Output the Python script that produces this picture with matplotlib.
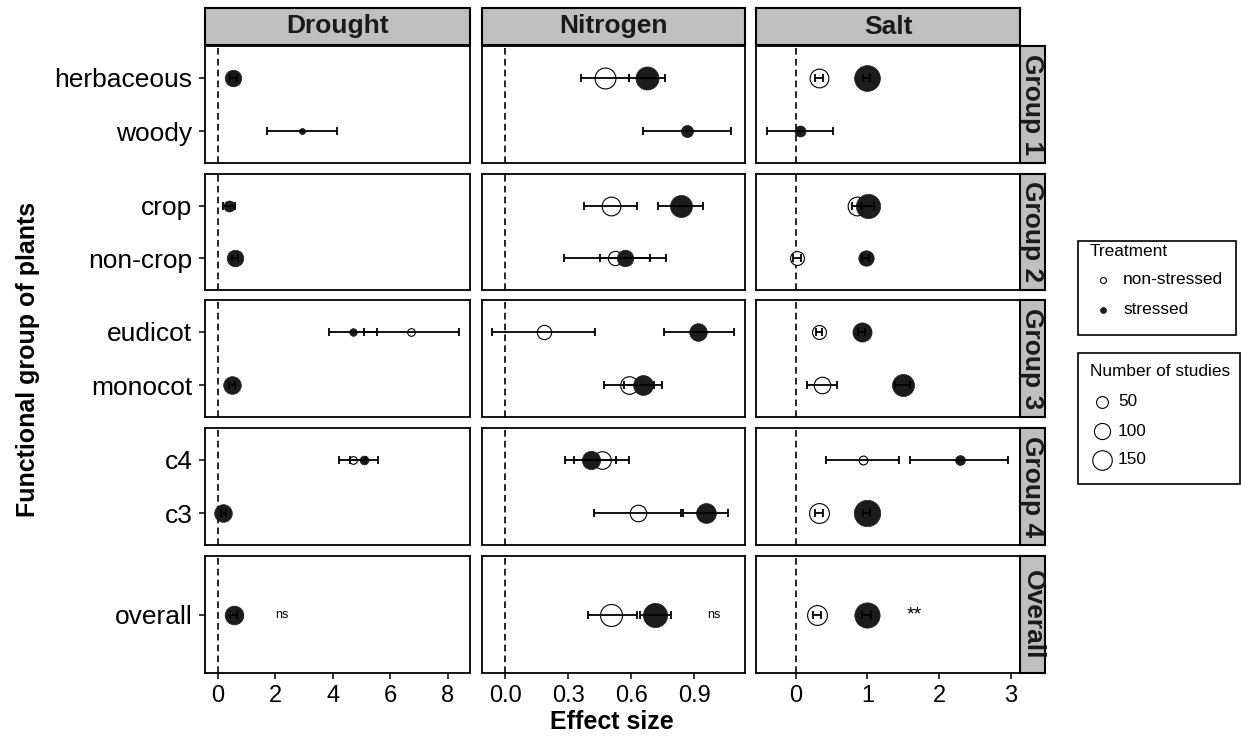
import numpy as np
import matplotlib
matplotlib.use('Agg')
import matplotlib.pyplot as plt
from matplotlib.patches import Rectangle

plt.rcParams['font.family'] = ['Liberation Sans', 'DejaVu Sans']

nan = np.nan

# ---------------- data ----------------
stresses = ['Drought', 'Nitrogen', 'Salt']
groups = ['Group 1', 'Group 2', 'Group 3', 'Group 4', 'Overall']
group_cats = [['herbaceous', 'woody'], ['crop', 'non-crop'],
              ['eudicot', 'monocot'], ['c4', 'c3'], ['overall']]
cats = ['herbaceous', 'woody', 'crop', 'non-crop', 'eudicot', 'monocot', 'c4', 'c3', 'overall']

# Drought
drought_ns = [nan, nan, nan, nan, 6.72, nan, 4.70, nan, nan]
drought_ns_lo = [nan, nan, nan, nan, 5.10, nan, 4.23, nan, nan]
drought_ns_hi = [nan, nan, nan, nan, 8.39, nan, 5.17, nan, nan]
drought_ns_n = [nan, nan, nan, nan, 16, nan, 16, nan, nan]
drought_s = [0.53, 2.93, 0.39, 0.60, 4.70, 0.48, 5.09, 0.19, 0.55]
drought_s_lo = [0.41, 1.70, 0.19, 0.50, 3.88, 0.38, 4.60, 0.09, 0.43]
drought_s_hi = [0.65, 4.16, 0.59, 0.70, 5.53, 0.58, 5.58, 0.29, 0.67]
drought_s_n = [105, 7, 42, 105, 16, 120, 24, 120, 137]

# Nitrogen
nitrogen_ns = [0.475, nan, 0.502, 0.522, 0.183, 0.589, 0.458, 0.63, 0.505]
nitrogen_ns_lo = [0.36, nan, 0.376, 0.28, -0.062, 0.47, 0.327, 0.424, 0.393]
nitrogen_ns_hi = [0.59, nan, 0.626, 0.765, 0.427, 0.71, 0.589, 0.838, 0.625]
nitrogen_ns_n = [172, nan, 137, 76, 76, 120, 120, 105, 192]
nitrogen_s = [0.675, 0.865, 0.835, 0.569, 0.919, 0.657, 0.406, 0.956, 0.714]
nitrogen_s_lo = [0.59, 0.656, 0.729, 0.45, 0.754, 0.566, 0.286, 0.848, 0.64]
nitrogen_s_hi = [0.76, 1.075, 0.941, 0.689, 1.089, 0.748, 0.527, 1.06, 0.79]
nitrogen_s_n = [212, 52, 192, 105, 120, 154, 130, 154, 234]

# Salt
salt_ns = [0.326, nan, 0.85, 0.02, 0.326, 0.363, 0.934, 0.326, 0.30]
salt_ns_lo = [0.27, nan, 0.79, -0.03, 0.28, 0.155, 0.42, 0.27, 0.24]
salt_ns_hi = [0.38, nan, 0.91, 0.07, 0.37, 0.572, 1.444, 0.38, 0.36]
salt_ns_n = [137, nan, 137, 72, 72, 105, 24, 154, 154]
salt_s = [0.99, 0.061, 1.01, 0.976, 0.92, 1.496, 2.285, 0.99, 0.99]
salt_s_lo = [0.94, -0.40, 0.93, 0.93, 0.87, 1.39, 1.60, 0.94, 0.93]
salt_s_hi = [1.04, 0.52, 1.09, 1.02, 0.97, 1.60, 2.96, 1.04, 1.05]
salt_s_n = [266, 42, 234, 90, 143, 192, 32, 280, 256]

sig_labels = ['ns', 'ns', '**']
sig_x = [2.23, 0.993, 1.66]

xticks = [[0, 2, 4, 6, 8], [0.0, 0.3, 0.6, 0.9], [0, 1, 2, 3]]
xticklabels = [['0', '2', '4', '6', '8'], ['0.0', '0.3', '0.6', '0.9'], ['0', '1', '2', '3']]
legend_sizes = [50, 100, 150]

series = {
    'Drought': (drought_ns, drought_ns_lo, drought_ns_hi, drought_ns_n,
                drought_s, drought_s_lo, drought_s_hi, drought_s_n),
    'Nitrogen': (nitrogen_ns, nitrogen_ns_lo, nitrogen_ns_hi, nitrogen_ns_n,
                 nitrogen_s, nitrogen_s_lo, nitrogen_s_hi, nitrogen_s_n),
    'Salt': (salt_ns, salt_ns_lo, salt_ns_hi, salt_ns_n,
             salt_s, salt_s_lo, salt_s_hi, salt_s_n),
}

# ---------------- layout ----------------
W, H = 1241, 740
DPI = 100
fig = plt.figure(figsize=(W / DPI, H / DPI), dpi=DPI)

def rect(x0, x1, y0, y1):
    return [x0 / W, 1 - y1 / H, (x1 - x0) / W, (y1 - y0) / H]

col_x = [(205, 470), (482, 745), (756, 1020)]
row_y = [(46, 163), (174, 290), (300, 417), (428, 545), (556, 673)]
xlims = [(-0.45, 8.78), (-0.111, 1.141), (-0.55, 3.125)]
strip_top = (8, 45)
strip_right = (1020, 1045)

PX = 72.0 / DPI  # points per pixel
FILL = '#1c1c1c'

def size_pts(n):
    n = np.asarray(n, dtype=float)
    r_px = 1.1 * np.sqrt(4 + 0.5 * n)
    return (2 * r_px * PX) ** 2

for ci, st in enumerate(stresses):
    ns, ns_lo, ns_hi, ns_n, s, s_lo, s_hi, s_n = [np.asarray(a, float) for a in series[st]]
    k = 0
    for ri, gcats in enumerate(group_cats):
        ax = fig.add_axes(rect(col_x[ci][0], col_x[ci][1], row_y[ri][0], row_y[ri][1]))
        idx = list(range(k, k + len(gcats)))
        k += len(gcats)
        ypos = np.arange(len(gcats), 0, -1, dtype=float)
        ax.set_xlim(*xlims[ci])
        ax.set_ylim(0.4, len(gcats) + 0.6)
        ax.axvline(0, color='black', lw=1.2, ls=(0, (4, 2.5)), zorder=1)
        for j, ii in enumerate(idx):
            y = ypos[j]
            if not np.isnan(ns[ii]):
                ax.scatter([ns[ii]], [y], s=size_pts(ns_n[ii]), facecolor='white',
                           edgecolor='black', linewidth=0.8, zorder=2)
                ax.errorbar([ns[ii]], [y], xerr=[[ns[ii] - ns_lo[ii]], [ns_hi[ii] - ns[ii]]],
                            fmt='none', ecolor='black', elinewidth=1.3, capsize=3,
                            capthick=1.3, zorder=4)
            if not np.isnan(s[ii]):
                ax.scatter([s[ii]], [y], s=size_pts(s_n[ii]), facecolor=FILL,
                           edgecolor=FILL, linewidth=0.5, zorder=3)
                ax.errorbar([s[ii]], [y], xerr=[[s[ii] - s_lo[ii]], [s_hi[ii] - s[ii]]],
                            fmt='none', ecolor='black', elinewidth=1.3, capsize=3,
                            capthick=1.3, zorder=4)
        if gcats == ['overall']:
            fs = 14 if sig_labels[ci] == '**' else 9
            ax.text(sig_x[ci], 1.0, sig_labels[ci], fontsize=fs, ha='center', va='center')
        for sp in ax.spines.values():
            sp.set_linewidth(1.3)
            sp.set_color('black')
        if ci == 0:
            ax.set_yticks(ypos)
            ax.set_yticklabels(gcats, fontsize=19)
            ax.tick_params(axis='y', length=4, width=1.1, pad=5)
        else:
            ax.set_yticks([])
        if ri == len(group_cats) - 1:
            ax.set_xticks(xticks[ci])
            ax.set_xticklabels(xticklabels[ci], fontsize=17)
            ax.tick_params(axis='x', length=4, width=1.1, pad=5)
        else:
            ax.set_xticks([])
        ax.set_facecolor('white')

    # top strip
    sax = fig.add_axes(rect(col_x[ci][0], col_x[ci][1], strip_top[0], strip_top[1]))
    sax.set_facecolor('#bfbfbf')
    sax.set_xticks([]); sax.set_yticks([])
    for sp in sax.spines.values():
        sp.set_linewidth(1.5)
    sax.text(0.5, 0.5, st, fontsize=19, fontweight='bold', ha='center', va='center',
             transform=sax.transAxes, color='#1a1a1a')

# right strips
for ri, g in enumerate(groups):
    sax = fig.add_axes(rect(strip_right[0], strip_right[1], row_y[ri][0], row_y[ri][1]))
    sax.set_facecolor('#bfbfbf')
    sax.set_xticks([]); sax.set_yticks([])
    for sp in sax.spines.values():
        sp.set_linewidth(1.5)
    sax.text(0.5, 0.5, g, fontsize=19, fontweight='bold', ha='center', va='center',
             rotation=270, transform=sax.transAxes, color='#1a1a1a')

# axis titles
fig.text(28 / W, 1 - 359 / H, 'Functional group of plants', rotation=90, fontsize=18,
         fontweight='bold', ha='center', va='center')
fig.text(612 / W, 1 - 722 / H, 'Effect size', fontsize=18, fontweight='bold',
         ha='center', va='center')

# legends drawn on an overlay in pixel coordinates
lax = fig.add_axes([0, 0, 1, 1], zorder=10)
lax.set_xlim(0, W)
lax.set_ylim(H, 0)
lax.axis('off')
lax.patch.set_alpha(0)

lax.add_patch(Rectangle((1078, 241), 158, 94, fill=False, edgecolor='black', lw=1.2))
lax.text(1090, 252, 'Treatment', fontsize=12.4, ha='left', va='center')
lax.scatter([1103], [280], s=(6 * PX) ** 2, facecolor='white', edgecolor='black', linewidth=0.8)
lax.text(1123, 280, 'non-stressed', fontsize=12.4, ha='left', va='center')
lax.scatter([1103], [310], s=(6 * PX) ** 2, facecolor=FILL, edgecolor=FILL, linewidth=0.5)
lax.text(1123, 310, 'stressed', fontsize=12.4, ha='left', va='center')

lax.add_patch(Rectangle((1078, 353), 162, 131, fill=False, edgecolor='black', lw=1.2))
lax.text(1090, 371, 'Number of studies', fontsize=12.4, ha='left', va='center')
for n, yy in zip(legend_sizes, [402, 431, 460]):
    lax.scatter([1102], [yy], s=size_pts(n), facecolor='white', edgecolor='black', linewidth=0.8)
    lax.text(1118, yy, str(n), fontsize=12.4, ha='left', va='center')

fig.savefig('out.png', dpi=DPI)
